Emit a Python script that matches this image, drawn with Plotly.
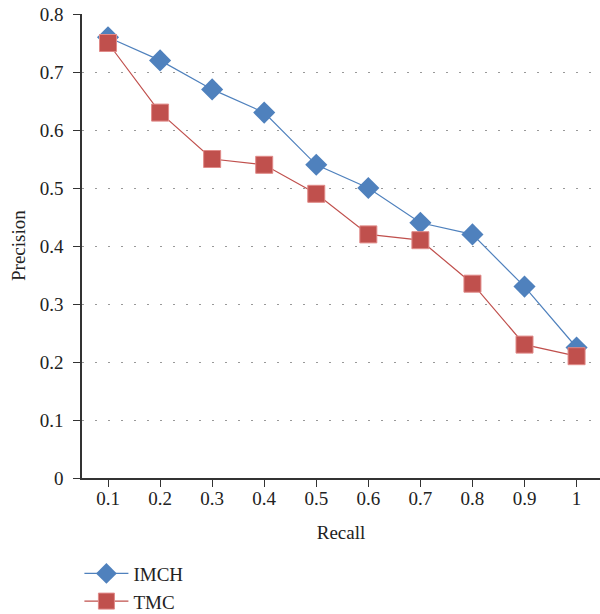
import plotly.graph_objects as go

recall = ["0.1", "0.2", "0.3", "0.4", "0.5", "0.6", "0.7", "0.8", "0.9", "1"]
imch = [0.76, 0.72, 0.67, 0.63, 0.54, 0.50, 0.44, 0.42, 0.33, 0.225]
tmc = [0.75, 0.63, 0.55, 0.54, 0.49, 0.42, 0.41, 0.335, 0.23, 0.21]

font = "Liberation Serif, Times New Roman, serif"

fig = go.Figure()
fig.add_trace(go.Scatter(x=recall, y=imch, name="IMCH", mode="lines+markers",
                         line=dict(color="#4F81BD", width=1.2),
                         marker=dict(symbol="diamond", size=17, color="#4F81BD")))
fig.add_trace(go.Scatter(x=recall, y=tmc, name="TMC", mode="lines+markers",
                         line=dict(color="#C0504D", width=1.2),
                         marker=dict(symbol="square", size=17, color="#C0504D",
                                     line=dict(color="#E08A88", width=1))))

fig.update_layout(
    width=600, height=614,
    margin=dict(l=82, r=0, t=14, b=136, autoexpand=False),
    paper_bgcolor="white", plot_bgcolor="white",
    font=dict(family=font, size=19, color="#222"),
    showlegend=True,
    legend=dict(x=-0.005, y=-0.165, xanchor="left", yanchor="top",
                font=dict(size=19, family=font), tracegroupgap=0,
                itemwidth=44),
    xaxis=dict(type="category", range=[-0.5, 9.45], showline=True, linecolor="#333",
               linewidth=1.5, ticks="outside", ticklen=7, tickcolor="#333",
               showgrid=False, zeroline=False, tickfont=dict(size=19),
               ticklabelstandoff=-5,
               title=dict(text="Recall", font=dict(size=19), standoff=18)),
    yaxis=dict(range=[0, 0.8], dtick=0.1, showline=True, linecolor="#333",
               linewidth=1.5, ticks="outside", ticklen=7, tickcolor="#333",
               showgrid=True, gridcolor="#999", griddash="2px,11px", gridwidth=1.2,
               zeroline=False, tickformat="~g", tickfont=dict(size=19),
               ticklabelstandoff=6),
    annotations=[dict(text="Precision", textangle=-90, xref="paper", yref="paper",
                      x=-(82 - 18) / 518, y=0.5, xanchor="center", yanchor="middle",
                      showarrow=False, font=dict(size=19, family=font))],
)
fig.write_html("out.html", post_script="document.body.style.margin='0';",
               config={"displayModeBar": False})
